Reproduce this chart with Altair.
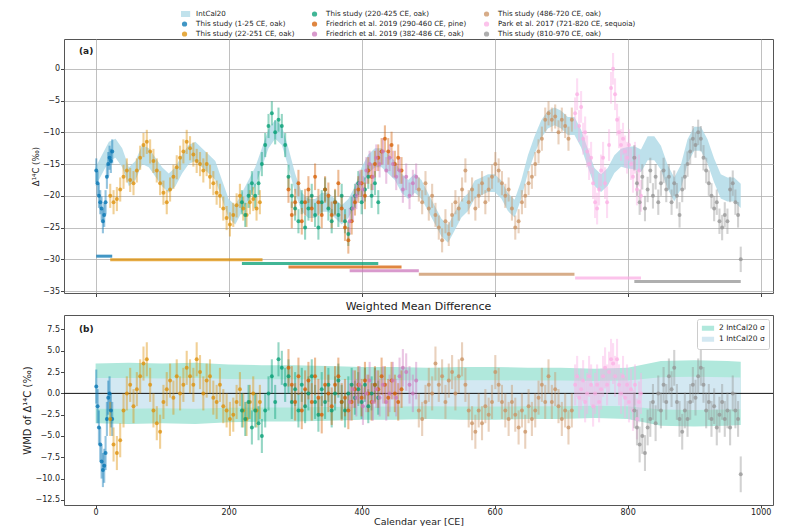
import altair as alt
import pandas as pd

# ---------------- data ----------------
names = [
    "This study (1-25 CE, oak)",
    "This study (22-251 CE, oak)",
    "This study (220-425 CE, oak)",
    "Friedrich et al. 2019 (290-460 CE, pine)",
    "Friedrich et al. 2019 (382-486 CE, oak)",
    "This study (486-720 CE, oak)",
    "Park et al. 2017 (721-820 CE, sequoia)",
    "This study (810-970 CE, oak)",
]
colors = ["#0173B2", "#DE8F05", "#029E73", "#D55E00", "#CC78BC", "#CA9161", "#FBAFE4", "#949494"]
first_year = [1, 22, 220, 290, 382, 486, 721, 810]
year_step = [2, 5, 5, 5, 5, 5, 3, 4]

# coverage bars at the bottom of panel (a)
range_start = [1, 22, 220, 290, 382, 486, 721, 810]
range_end = [25, 251, 425, 460, 486, 720, 820, 970]
range_level = [-29.5, -30.07, -30.64, -31.21, -31.78, -32.35, -32.92, -33.49]

# typical 1-sigma uncertainties
err_a = [1.9, 1.9, 1.9, 2.1, 2.1, 1.9, 2.5, 2.0]
err_b = [2.0, 2.0, 2.0, 2.2, 2.2, 2.0, 2.4, 2.1]

# Delta14C (permil), panel (a)
d14c = [
    [-16, -18, -20, -21, -22, -24, -23, -21, -17, -15, -14, -14.5, -13],
    [-20, -21, -20.5, -19, -17, -16, -17.5, -18, -16, -14,
     -12, -11.5, -13, -14.5, -16, -18, -19.5, -21, -19, -17,
     -15.5, -14, -13, -11.5, -12.5, -13.5, -14.5, -15, -16, -15,
     -17, -18, -19.5, -20, -22, -23.5, -24.5, -23, -21.5, -20,
     -22, -23, -21, -20.5, -22, -21],
    [-21, -23, -20, -18, -20, -18, -15, -12, -9, -7,
     -10, -8, -9, -12, -17, -20, -22, -24, -21, -25,
     -22, -20, -23, -25, -21, -19, -22, -24, -21, -23,
     -20, -24, -26, -22, -20, -18, -21, -19, -17, -20,
     -18, -21],
    [-19, -23, -21, -18, -24, -21, -19, -22, -17, -21,
     -23, -19, -20, -23, -21, -18, -22, -25, -27, -24,
     -21, -19, -18, -20, -16, -17, -15, -14, -13, -11,
     -13, -12, -15, -14, -16],
    [-24, -22, -20, -18, -19, -16, -15, -17, -14, -15,
     -13, -16, -14, -15, -17, -16, -19, -17, -20, -18, -17],
    [-19, -21, -18, -22, -20, -23, -25, -27, -24, -26,
     -23, -21, -22, -19, -16, -21, -19, -22, -20, -18,
     -21, -19, -17, -15, -16, -18, -20, -19, -22, -25,
     -24, -21, -20, -18, -17, -15, -13, -11, -8, -7,
     -8, -7.5, -10, -8, -9, -11, -8],
    [-7, -4, -9, -6, -11, -10, -13, -15, -14, -18,
     -21, -22, -19, -16, -14, -18, -21, -12, -3, 0,
     -4, -8, -10, -12, -11, -13, -14, -12, -15, -17,
     -14, -19, -16, -20],
    [-14, -18, -21, -17, -22, -19, -16, -20, -17, -21,
     -18, -16, -19, -17, -21, -18, -20, -23, -19, -17,
     -15, -13, -11, -12, -10, -11, -14, -16, -18, -20,
     -22, -21, -24, -25, -23, -24, -19, -18, -21, -23, -30],
]

# weighted mean difference (permil), panel (b)
wmd = [
    [0.8, -1.5, -4, -6, -8, -9, -8.5, -7, -3, -0.5, 0, -2, -3],
    [-3, -6, -7, -5.5, -2, 0, 1, -1.5, 0.5, 2,
     3.5, 4, 1, -2, -3.5, -4.5, -1, 0.5, 1.5, -0.5,
     2, 0, 1, 3, 2, 1, 4, 2.5, 0, 1.5,
     2, -0.5, -1, 1, -1.5, -2, -3, -2.5, -1, 0.5,
     -2, -3, -1, 0, -2, -1],
    [-2, -3, -1, -4, -2, -3.5, -5, -2, 0, 2,
     -1, 4, 3, 1, 2, -1, 0.5, -2, 1, -1.5,
     0, 2, -1, -2.5, 0.5, -1, 1, -2, 0, 1.5,
     -1, -2, 0, 1, -0.5, 0.5, -1, 1, -1.5, 0,
     1, -0.5],
    [3, 1, -1, 2, -2, 0.5, 1.5, -1, 2, -0.5,
     -2.5, 1, 0, -1.5, 1, 2, -1, -0.5, -2, -1,
     0.5, 1, -0.5, 1.5, 0, -1, 1, 0.5, 2, 1,
     -0.5, 1.5, 0, -1, 0.5],
    [-1, 0.5, -0.5, 1, -1.5, 0, 1.5, -1, 0.5, -0.5,
     1, -1, 0, 1.5, -0.5, 2, 3, 2.5, 1, 0, 1.5],
    [-2, -3, -1, 1, 0, 3.5, 1, 2, -1, 1.5,
     2.5, 0, 2, 4, 1, -2, -3.5, -4.5, -2, -3.5,
     -1.5, -2.5, -1, 2.5, 1, -1, -2, -3, -1, -2.5,
     -4, -2, -4.5, -1.5, -3, -2, -0.5, 1, -1, 2,
     -1, 0.5, -1.5, -3, -2, -4, -2],
    [1, 2, -0.5, 0.5, 1.5, -1, 0, 2, 1, -1.5,
     0, 1, -1, 0.5, 2, 3, 1, 2.5, 4, 3.5,
     2, 4, 1, 0, 2, -0.5, 1, -1, 0.5, -2,
     1, -3, -1, 0],
    [-2, -4, -6, -5, -7, -4, -3, -1, -3.5, 0,
     -2, 1, -1, 2, 0.5, 3, -1, -3, -4.5, -2,
     -3, -1, 1, -0.5, 2, 3, 1, -2, -1, -3,
     -1.5, -4, -2.5, -1, -3, -2, -4, 0, -2, -3, -9.5],
]

# IntCal20 curve (every 10 years from 0 CE)
ic_first, ic_step = 0, 10
ic_mid = [
    -17, -15, -13, -12.5, -14, -17, -16, -13.5, -14, -15.5,
    -17, -18, -17, -15, -13.5, -13, -14, -15, -16, -19,
    -22, -23, -21, -19, -17, -14, -11, -9.5, -10.5, -14,
    -18, -21, -22, -22, -21, -21, -22, -23, -22, -20,
    -17, -15, -14, -14, -15, -16, -18, -19, -18, -19,
    -21, -23, -25, -26, -24, -22, -21, -19, -18.5, -18,
    -18, -19, -21, -22, -19, -15, -12, -9.5, -8, -7.5,
    -8, -9, -9, -11, -14, -17, -18, -17, -15, -14,
    -14, -14, -14.5, -12.5, -12.5, -14, -17, -19, -17, -13,
    -11, -11, -13, -16, -18.5, -19, -19, -20,
]
ic_sig = [
    1.5, 1.5, 1.5, 1.5, 1.5, 1.5, 1.5, 1.5, 1.5, 1.5,
    1.5, 1.5, 1.5, 1.5, 1.5, 1.5, 1.5, 1.5, 1.5, 1.5,
    1.5, 1.5, 1.5, 1.5, 1.5, 1.5, 1.5, 1.5, 1.5, 1.5,
    1.5, 1.5, 1.5, 1.5, 1.5, 1.5, 1.5, 1.5, 1.5, 1.5,
    1.5, 1.5, 1.5, 1.5, 1.5, 1.5, 1.5, 1.5, 1.5, 1.5,
    1.4, 1.4, 1.4, 1.4, 1.4, 1.4, 1.4, 1.4, 1.4, 1.4,
    1.4, 1.4, 1.4, 1.4, 1.4, 1.4, 1.4, 1.4, 1.4, 1.4,
    1.4, 1.4, 1.4, 1.4, 1.4, 1.4, 1.4, 1.4, 1.4, 1.4,
    1.7, 1.8, 1.8, 1.9, 1.9, 1.9, 1.9, 1.9, 1.9, 1.9,
    1.9, 1.9, 1.9, 1.9, 1.9, 1.9, 1.9, 1.9,
]

# IntCal20 sigma envelopes for panel (b)
band_year = [0, 50, 100, 150, 200, 250, 300, 350, 400, 450, 500,
             550, 600, 650, 700, 750, 800, 850, 900, 950, 970]
sig2 = [3.5, 3.6, 3.5, 3.6, 3.4, 3.3, 3.3, 3.2, 3.1, 3.1, 3.0,
        3.1, 3.1, 3.0, 3.0, 2.9, 3.0, 3.8, 3.9, 3.8, 3.7]
sig1 = [1.8, 1.8, 1.75, 1.8, 1.7, 1.65, 1.65, 1.6, 1.55, 1.55, 1.5,
        1.55, 1.55, 1.5, 1.5, 1.45, 1.5, 1.9, 1.95, 1.9, 1.85]
band_names = ["2 IntCal20 \u03c3", "1 IntCal20 \u03c3"]
band_colors = ["#b0e8dc", "#d3e8f2"]

x_ticks = [0, 200, 400, 600, 800, 1000]
ya_ticks = [-35, -30, -25, -20, -15, -10, -5, 0]
yb_ticks = [-12.5, -10, -7.5, -5, -2.5, 0, 2.5, 5, 7.5]

# ---------------- tables ----------------
rows_a, rows_b = [], []
for i, nm in enumerate(names):
    for j, v in enumerate(d14c[i]):
        yr = first_year[i] + j * year_step[i]
        rows_a.append({"series": nm, "year": yr, "v": v, "lo": v - err_a[i], "hi": v + err_a[i]})
    for j, v in enumerate(wmd[i]):
        yr = first_year[i] + j * year_step[i]
        rows_b.append({"series": nm, "year": yr, "v": v, "lo": v - err_b[i], "hi": v + err_b[i]})
df_a = pd.DataFrame(rows_a)
df_b = pd.DataFrame(rows_b)

df_ic = pd.DataFrame({
    "year": [ic_first + k * ic_step for k in range(len(ic_mid))],
    "lo": [m - s for m, s in zip(ic_mid, ic_sig)],
    "hi": [m + s for m, s in zip(ic_mid, ic_sig)],
})
df_rng = pd.DataFrame({"series": names, "start": range_start, "end": range_end, "level": range_level})
df_b2 = pd.DataFrame({"year": band_year, "lo": [-s for s in sig2], "hi": sig2, "band": band_names[0]})
df_b1 = pd.DataFrame({"year": band_year, "lo": [-s for s in sig1], "hi": sig1, "band": band_names[1]})

# legend entries (filled column by column, 3 per column)
leg_domain = ["IntCal20"] + names
cmap = dict(zip(names, colors))
cmap["IntCal20"] = "#add8e6"
leg_colors = [cmap[n] for n in leg_domain]
rect_path = "M-2.6,-1.2L2.6,-1.2L2.6,1.2L-2.6,1.2Z"
leg_shapes = [rect_path if n == "IntCal20" else "circle" for n in leg_domain]

FONT = "DejaVu Sans"
xscale = alt.Scale(domain=[-47.5, 1018.5], nice=False, zero=False)
ya_scale = alt.Scale(domain=[-35.3, 4.7], nice=False, zero=False)
yb_scale = alt.Scale(domain=[-13.1, 9.2], nice=False, zero=False)

W = 709
HA = 254
HB = 190

top_legend = alt.Legend(
    orient="none", legendX=117, legendY=-30, columns=3, title=None,
    labelFontSize=7.1, symbolSize=14, rowPadding=-1, columnPadding=16,
    labelOffset=8, padding=0, symbolOpacity=0.75, gridAlign="each", clipHeight=10,
)
cscale_a = alt.Scale(domain=leg_domain, range=leg_colors)
shape_scale = alt.Scale(domain=leg_domain, range=leg_shapes)

# ---------------- panel (a) ----------------
ax_xa = alt.Axis(values=x_ticks, labels=False, title=None, grid=True)
ax_ya = alt.Axis(values=ya_ticks, title="\u0394\u00b9\u2074C (\u2030)", grid=True,
                 titleFontSize=8.5, titlePadding=2)

ic_band = alt.Chart(df_ic).mark_area(color="#add8e6", opacity=0.8).encode(
    x=alt.X("year:Q", scale=xscale, axis=ax_xa),
    y=alt.Y("lo:Q", scale=ya_scale, axis=ax_ya),
    y2="hi:Q",
)
err_a_layer = alt.Chart(df_a).mark_rule(strokeWidth=2.1, opacity=0.42).encode(
    x=alt.X("year:Q", scale=xscale, axis=ax_xa),
    y=alt.Y("lo:Q", scale=ya_scale, axis=ax_ya),
    y2="hi:Q",
    color=alt.Color("series:N", scale=cscale_a, legend=top_legend),
)
pts_a = alt.Chart(df_a).mark_point(filled=True, size=16, opacity=0.75).encode(
    x=alt.X("year:Q", scale=xscale, axis=ax_xa),
    y=alt.Y("v:Q", scale=ya_scale, axis=ax_ya),
    color=alt.Color("series:N", scale=cscale_a, legend=top_legend),
    shape=alt.Shape("series:N", scale=shape_scale, legend=top_legend),
)
rng_a = alt.Chart(df_rng).mark_rule(strokeWidth=3, opacity=0.75).encode(
    x=alt.X("start:Q", scale=xscale, axis=ax_xa),
    x2="end:Q",
    y=alt.Y("level:Q", scale=ya_scale, axis=ax_ya),
    color=alt.Color("series:N", scale=cscale_a, legend=top_legend),
)
lab_a = alt.Chart(pd.DataFrame({"t": ["(a)"]})).mark_text(
    fontWeight="bold", fontSize=9, align="left", baseline="middle", font=FONT, color="#222"
).encode(x=alt.value(15), y=alt.value(12), text="t:N")

panel_a = alt.layer(ic_band, err_a_layer, pts_a, rng_a, lab_a).properties(width=W, height=HA)

# ---------------- panel (b) ----------------
band_legend = alt.Legend(
    orient="top-right", title=None, fillColor="white", strokeColor="#cccccc",
    padding=4, offset=4, labelFontSize=7.5, symbolType="M-1,-0.4L1,-0.4L1,0.4L-1,0.4Z",
    symbolSize=150, labelOffset=4, rowPadding=-1, cornerRadius=2, symbolOpacity=1,
    clipHeight=10.5,
)
bscale = alt.Scale(domain=band_names, range=band_colors)
ax_xb = alt.Axis(values=x_ticks, title="Calendar year [CE]", grid=False, format="d",
                 titleFontSize=9.5, titlePadding=0, labelPadding=0, tickSize=3)
ax_yb = alt.Axis(values=yb_ticks, title="WMD of \u0394\u00b9\u2074C (\u2030)", grid=False,
                 format=".1f", titleFontSize=10, titlePadding=2)

band2 = alt.Chart(df_b2).mark_area(opacity=1).encode(
    x=alt.X("year:Q", scale=xscale, axis=ax_xb),
    y=alt.Y("lo:Q", scale=yb_scale, axis=ax_yb),
    y2="hi:Q",
    color=alt.Color("band:N", scale=bscale, legend=band_legend),
)
band1 = alt.Chart(df_b1).mark_area(opacity=1).encode(
    x=alt.X("year:Q", scale=xscale, axis=ax_xb),
    y=alt.Y("lo:Q", scale=yb_scale, axis=ax_yb),
    y2="hi:Q",
    color=alt.Color("band:N", scale=bscale, legend=band_legend),
)
zero_b = alt.Chart(pd.DataFrame({"z": [0]})).mark_rule(color="#111", strokeWidth=1).encode(
    y=alt.Y("z:Q", scale=yb_scale, axis=ax_yb)
)
sscale = alt.Scale(domain=names, range=colors)
err_b_layer = alt.Chart(df_b).mark_rule(strokeWidth=2.1, opacity=0.42).encode(
    x=alt.X("year:Q", scale=xscale, axis=ax_xb),
    y=alt.Y("lo:Q", scale=yb_scale, axis=ax_yb),
    y2="hi:Q",
    stroke=alt.Stroke("series:N", scale=sscale, legend=None),
)
pts_b = alt.Chart(df_b).mark_point(filled=True, size=16, opacity=0.75, shape="circle").encode(
    x=alt.X("year:Q", scale=xscale, axis=ax_xb),
    y=alt.Y("v:Q", scale=yb_scale, axis=ax_yb),
    fill=alt.Fill("series:N", scale=sscale, legend=None),
)
lab_b = alt.Chart(pd.DataFrame({"t": ["(b)"]})).mark_text(
    fontWeight="bold", fontSize=9, align="left", baseline="middle", font=FONT, color="#222"
).encode(x=alt.value(15), y=alt.value(14), text="t:N")

panel_b = alt.layer(band2, band1, zero_b, err_b_layer, pts_b, lab_b).properties(
    width=W, height=HB,
    title=alt.TitleParams("Weighted Mean Difference", fontSize=11, fontWeight="normal",
                          anchor="middle", offset=3, font=FONT, color="#222"),
)

chart = alt.vconcat(panel_a, panel_b, spacing=2).resolve_scale(
    color="independent", shape="independent", fill="independent", stroke="independent",
).resolve_legend(color="independent", shape="independent").properties(
    padding={"left": 14, "top": 0, "right": 5, "bottom": 0},
    background="white",
).configure_view(stroke="#555", strokeWidth=1).configure_axis(
    labelFont=FONT, titleFont=FONT, labelColor="#222", titleColor="#222",
    tickColor="#444", labelFontSize=8, titleFontWeight="normal", domain=False,
    tickSize=3.5, gridColor="#b0b0b0", gridWidth=0.8, labelPadding=1,
).configure_legend(labelFont=FONT, labelColor="#222")

chart.save("out.html", embed_options={"renderer": "svg", "actions": False})
